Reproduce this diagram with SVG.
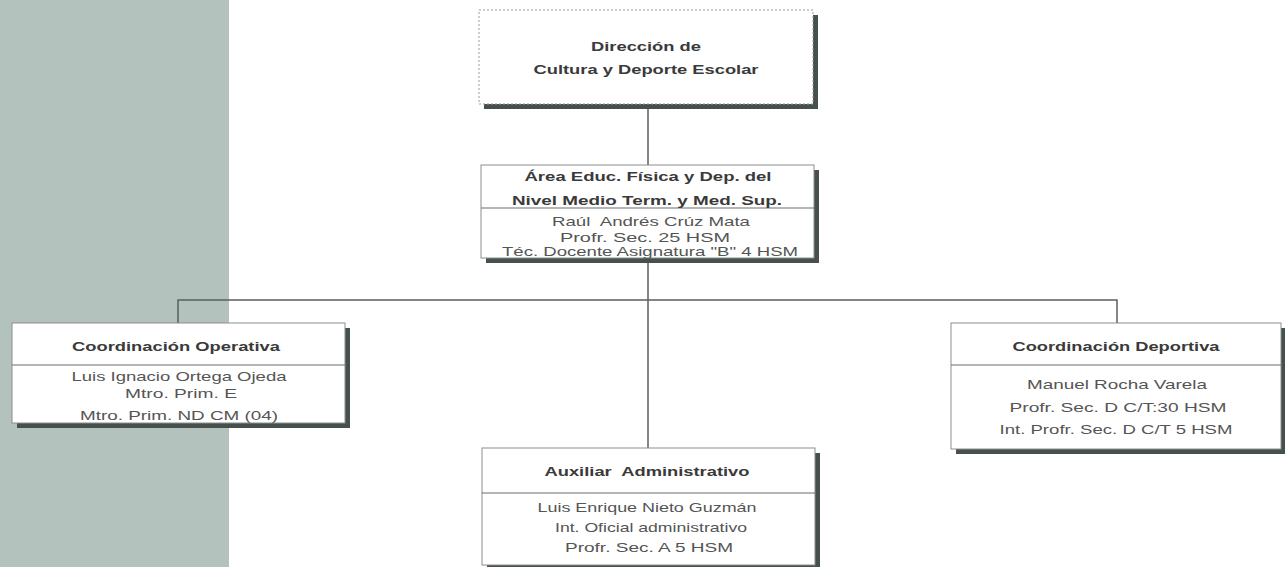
<svg xmlns="http://www.w3.org/2000/svg" width="1285" height="567" viewBox="0 0 1285 567">
<style>
.bg{fill:#b3c2bd}
.sh{fill:#46504c}
.box{fill:#ffffff;stroke:#8a8f8d;stroke-width:1}
.dot{fill:#ffffff;stroke:#9a9a9a;stroke-width:1;stroke-dasharray:2 2}
.div{stroke:#6a6f6d;stroke-width:1.2}
.ln{stroke:#5a5f5d;stroke-width:1.5;fill:none}
text{font-family:"Liberation Sans",Arial,sans-serif;text-anchor:middle;white-space:pre}
.t{font-size:12.5px;font-weight:bold;fill:#3a3a3a}
.b{font-size:13px;fill:#555555}
</style>
<rect class="bg" x="0" y="0" width="229" height="567"/>
<g id="connectors">
<line class="ln" x1="648" y1="104" x2="648" y2="165"/>
<line class="ln" x1="648" y1="262" x2="648" y2="448"/>
<polyline class="ln" points="178,323 178,300 1117,300 1117,323"/>
</g>
<g id="direccion">
<rect class="sh" x="484" y="15" width="334" height="94"/>
<rect class="dot" x="479" y="10" width="334" height="94"/>
<text class="t" x="646" y="51" textLength="110" lengthAdjust="spacingAndGlyphs">Dirección de</text>
<text class="t" x="646" y="74" textLength="225" lengthAdjust="spacingAndGlyphs">Cultura y Deporte Escolar</text>
</g>
<g id="area">
<rect class="sh" x="486" y="170" width="333" height="93"/>
<rect class="box" x="481" y="165" width="333" height="93"/>
<line class="div" x1="481" y1="208" x2="814" y2="208"/>
<text class="t" x="648" y="181" textLength="247" lengthAdjust="spacingAndGlyphs">Área Educ. Física y Dep. del</text>
<text class="t" x="647" y="205" textLength="270" lengthAdjust="spacingAndGlyphs">Nivel Medio Term. y Med. Sup.</text>
<text class="b" x="651" y="226" textLength="198" lengthAdjust="spacingAndGlyphs">Raúl  Andrés Crúz Mata</text>
<text class="b" x="645" y="242" textLength="170" lengthAdjust="spacingAndGlyphs">Profr. Sec. 25 HSM</text>
<text class="b" x="650" y="256" textLength="296" lengthAdjust="spacingAndGlyphs">Téc. Docente Asignatura "B" 4 HSM</text>
</g>
<g id="operativa">
<rect class="sh" x="17" y="328" width="333" height="100"/>
<rect class="box" x="12" y="323" width="333" height="100"/>
<line class="div" x1="12" y1="365" x2="345" y2="365"/>
<text class="t" x="176" y="351" textLength="208" lengthAdjust="spacingAndGlyphs">Coordinación Operativa</text>
<text class="b" x="179" y="381" textLength="215" lengthAdjust="spacingAndGlyphs">Luis Ignacio Ortega Ojeda</text>
<text class="b" x="181" y="398" textLength="112" lengthAdjust="spacingAndGlyphs">Mtro. Prim. E</text>
<text class="b" x="179" y="420" textLength="198" lengthAdjust="spacingAndGlyphs">Mtro. Prim. ND CM (04)</text>
</g>
<g id="deportiva">
<rect class="sh" x="956" y="328" width="330" height="126"/>
<rect class="box" x="951" y="323" width="330" height="126"/>
<line class="div" x1="951" y1="365" x2="1281" y2="365"/>
<text class="t" x="1116" y="351" textLength="207" lengthAdjust="spacingAndGlyphs">Coordinación Deportiva</text>
<text class="b" x="1117" y="389" textLength="180" lengthAdjust="spacingAndGlyphs">Manuel Rocha Varela</text>
<text class="b" x="1118" y="412" textLength="217" lengthAdjust="spacingAndGlyphs">Profr. Sec. D C/T:30 HSM</text>
<text class="b" x="1116" y="434" textLength="233" lengthAdjust="spacingAndGlyphs">Int. Profr. Sec. D C/T 5 HSM</text>
</g>
<g id="auxiliar">
<rect class="sh" x="487" y="453" width="333" height="117"/>
<rect class="box" x="482" y="448" width="333" height="117"/>
<line class="div" x1="482" y1="493" x2="815" y2="493"/>
<text class="t" x="647" y="476" textLength="205" lengthAdjust="spacingAndGlyphs">Auxiliar  Administrativo</text>
<text class="b" x="647" y="512" textLength="219" lengthAdjust="spacingAndGlyphs">Luis Enrique Nieto Guzmán</text>
<text class="b" x="651" y="532" textLength="192" lengthAdjust="spacingAndGlyphs">Int. Oficial administrativo</text>
<text class="b" x="649" y="552" textLength="168" lengthAdjust="spacingAndGlyphs">Profr. Sec. A 5 HSM</text>
</g>
</svg>
